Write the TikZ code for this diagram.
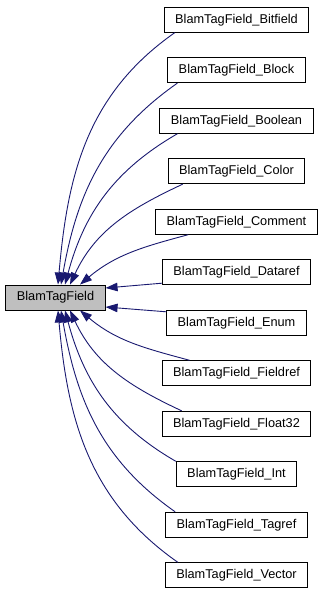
\documentclass[tikz,border=0pt]{standalone}
\usepackage{fontspec}
\setmainfont{Liberation Sans}
\usepackage{xcolor}
\usetikzlibrary{arrows.meta}

\definecolor{edgeblue}{RGB}{25,25,112}
\definecolor{basegray}{RGB}{191,191,191}

\begin{document}
\begin{tikzpicture}[
    x=1pt, y=1pt,
    >={Triangle[length=12pt, width=8.5pt]},
    cls/.style={
        draw, line width=0.9pt,
        minimum height=25pt, inner xsep=11pt, inner ysep=0pt,
        font=\fontsize{12.75}{15}\selectfont,
        text centered
    },
    basecls/.style={cls, fill=basegray},
    arr/.style={<-, draw=edgeblue, line width=0.9pt}
]
    \useasboundingbox (0, 0) rectangle (324, 595);

    \node[basecls] (base) at (55.5, 297.5) {BlamTagField};

    \node[cls] (bitfield) at (236.5, 575.25) {BlamTagField\_Bitfield};
    \node[cls] (block)    at (236.5, 524.75) {BlamTagField\_Block};
    \node[cls] (boolean)  at (236.5, 474.25) {BlamTagField\_Boolean};
    \node[cls] (color)    at (236.5, 423.75) {BlamTagField\_Color};
    \node[cls] (comment)  at (236.5, 373.25) {BlamTagField\_Comment};
    \node[cls] (dataref)  at (236.5, 322.75) {BlamTagField\_Dataref};
    \node[cls] (enum)     at (236.5, 272.25) {BlamTagField\_Enum};
    \node[cls] (fieldref) at (236.5, 221.75) {BlamTagField\_Fieldref};
    \node[cls] (float32)  at (236.5, 171.25) {BlamTagField\_Float32};
    \node[cls] (int)      at (236.5, 120.75) {BlamTagField\_Int};
    \node[cls] (tagref)   at (236.5, 70.25)  {BlamTagField\_Tagref};
    \node[cls] (vector)   at (236.5, 19.75)  {BlamTagField\_Vector};

    % upper children
    \draw[arr] ([xshift=2.5pt]base.north) to[out=85, in=215] ([xshift=11pt]bitfield.south west);
    \draw[arr] ([xshift=5.5pt]base.north) to[out=80, in=215] ([xshift=10pt]block.south west);
    \draw[arr] ([xshift=9.5pt]base.north) to[out=75, in=210] ([xshift=18pt]boolean.south west);
    \draw[arr] ([xshift=14.5pt]base.north) to[out=65, in=205] ([xshift=15pt]color.south west);
    \draw[arr] ([xshift=24.5pt]base.north) to[out=40, in=195] ([xshift=33pt]comment.south west);
    \draw[arr] ([yshift=9.5pt]base.east) -- ([yshift=2pt]dataref.south west);

    % lower children
    \draw[arr] ([yshift=-9.5pt]base.east) -- ([yshift=-2pt]enum.north west);
    \draw[arr] ([xshift=24.5pt]base.south) to[out=-40, in=165] ([xshift=28pt]fieldref.north west);
    \draw[arr] ([xshift=14.5pt]base.south) to[out=-65, in=155] ([xshift=20pt]float32.north west);
    \draw[arr] ([xshift=9.5pt]base.south) to[out=-75, in=150] (int.north west);
    \draw[arr] ([xshift=5.5pt]base.south) to[out=-80, in=145] ([xshift=10pt]tagref.north west);
    \draw[arr] ([xshift=2.5pt]base.south) to[out=-85, in=145] ([xshift=13pt]vector.north west);
\end{tikzpicture}
\end{document}
